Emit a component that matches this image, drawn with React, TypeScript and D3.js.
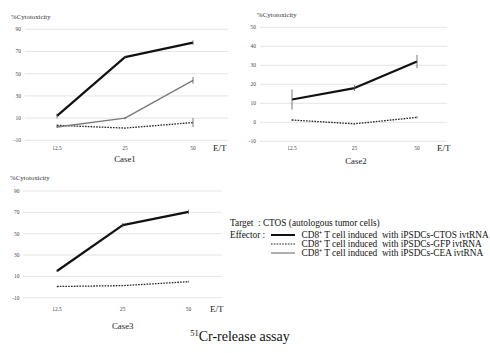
import React from "react";
import * as d3 from "d3";

const categories = ["12.5", "25", "50"];

const case1CTOS = [12, 65, 78];
const case1CTOSErr = [2, 1, 2];
const case1GFP = [3.5, 1, 6];
const case1GFPErr = [1, 0.5, 4];
const case1CEA = [2, 10, 44];
const case1CEAErr = [1, 1, 3];

const case2CTOS = [12, 18, 32];
const case2CTOSErr = [5.3, 1.5, 3.5];
const case2GFP = [1.2, -0.8, 2.6];
const case2GFPErr = [0.5, 0.4, 0.6];

const case3CTOS = [15, 58, 70.5];
const case3CTOSErr = [1, 2, 2];
const case3GFP = [0.5, 1.3, 5];
const case3GFPErr = [0.4, 0.4, 0.8];

const ticks1 = [-10, 10, 30, 50, 70, 90];
const ticks2 = [-10, 0, 10, 20, 30, 40, 50];
const ticks3 = [-10, 10, 30, 50, 70, 90];

const legendLabels = [
  "CD8\u207A T cell induced\u00A0 with iPSDCs-CTOS ivtRNA",
  "CD8\u207A T cell induced\u00A0 with iPSDCs-GFP ivtRNA",
  "CD8\u207A T cell induced\u00A0 with iPSDCs-CEA ivtRNA",
];

const FONT = "'Liberation Serif', 'Times New Roman', serif";

type Series = { values: number[]; err: number[]; style: string };

const styles: Record<string, { stroke: string; width: number; dash?: string }> = {
  ctos: { stroke: "#111", width: 2.2 },
  gfp: { stroke: "#222", width: 1.3, dash: "1.6,1.2" },
  cea: { stroke: "#7a7a7a", width: 1.4 },
};

function Panel(props: {
  gx0: number; gx1: number; px0: number; px1: number;
  yTop: number; yBot: number; domain: [number, number]; ticks: number[];
  series: Series[]; title: string; titleX: number; titleY: number;
  ylabX: number; ylabY: number; tickRight: number; xLabY: number; etX: number;
}) {
  const x = d3.scalePoint<string>().domain(categories).range([props.px0, props.px1]);
  const y = d3.scaleLinear().domain(props.domain).range([props.yBot, props.yTop]);
  const line = d3.line<number>().x((_, i) => x(categories[i])!).y((d) => y(d));
  return (
    <g>
      <text x={props.ylabX} y={props.ylabY} fontSize={6.8} fill="#333" fontFamily={FONT}>%Cytotoxicity</text>
      {props.ticks.map((t) => (
        <g key={t}>
          <line x1={props.gx0} x2={props.gx1} y1={y(t)} y2={y(t)} stroke="#dedede" strokeWidth={0.8} />
          <text x={props.tickRight} y={y(t) + 1.9} fontSize={5.4} textAnchor="end" fill="#444" fontFamily={FONT}>{t}</text>
        </g>
      ))}
      {categories.map((c) => (
        <text key={c} x={x(c)} y={props.xLabY + 1.9} fontSize={5.4} textAnchor="middle" fill="#444" fontFamily={FONT}>{c}</text>
      ))}
      <text x={props.etX} y={props.xLabY + 3.2} fontSize={9} fill="#222" fontFamily={FONT}>E/T</text>
      <text x={props.titleX} y={props.titleY + 3.2} fontSize={8.8} textAnchor="middle" fill="#222" fontFamily={FONT}>{props.title}</text>
      {props.series.map((s, k) => {
        const st = styles[s.style];
        return (
          <g key={k}>
            <path d={line(s.values)!} fill="none" stroke={st.stroke} strokeWidth={st.width} strokeDasharray={st.dash} strokeLinejoin="round" />
            {s.values.map((v, i) => (
              <line key={i} x1={x(categories[i])} x2={x(categories[i])} y1={y(v - s.err[i])} y2={y(v + s.err[i])} stroke="#555" strokeWidth={0.8} />
            ))}
          </g>
        );
      })}
    </g>
  );
}

export default function App() {
  const legendY = [238, 247, 256];
  return (
    <svg width={490} height={353} style={{ position: "absolute", left: 0, top: 0, background: "#fff" }}>
      <Panel gx0={25} gx1={228} px0={57} px1={193} yTop={29.3} yBot={140.3} domain={[-10, 90]} ticks={ticks1}
        series={[
          { values: case1CTOS, err: case1CTOSErr, style: "ctos" },
          { values: case1GFP, err: case1GFPErr, style: "gfp" },
          { values: case1CEA, err: case1CEAErr, style: "cea" },
        ]}
        title="Case1" titleX={125} titleY={159} ylabX={11} ylabY={19} tickRight={21} xLabY={148} etX={213} />
      <Panel gx0={260} gx1={447} px0={292} px1={417} yTop={27.3} yBot={141.3} domain={[-10, 50]} ticks={ticks2}
        series={[
          { values: case2CTOS, err: case2CTOSErr, style: "ctos" },
          { values: case2GFP, err: case2GFPErr, style: "gfp" },
        ]}
        title="Case2" titleX={356} titleY={161} ylabX={257} ylabY={17} tickRight={256} xLabY={148} etX={437} />
      <Panel gx0={23} gx1={222} px0={57} px1={188.5} yTop={191} yBot={297.7} domain={[-10, 90]} ticks={ticks3}
        series={[
          { values: case3CTOS, err: case3CTOSErr, style: "ctos" },
          { values: case3GFP, err: case3GFPErr, style: "gfp" },
        ]}
        title="Case3" titleX={122.7} titleY={325.5} ylabX={10} ylabY={180} tickRight={19.5} xLabY={309} etX={210} />
      <g fontFamily={FONT} fontSize={9.3} fill="#111">
        <text x={230} y={226}>Target</text>
        <text x={258} y={226}>: CTOS (autologous tumor cells)</text>
        <text x={230} y={legendY[0]}>Effector :</text>
        {legendLabels.map((l, i) => (
          <text key={i} x={301.5} y={legendY[i]}>{l}</text>
        ))}
      </g>
      {["ctos", "gfp", "cea"].map((k, i) => {
        const st = styles[k];
        return (
          <line key={k} x1={271} x2={295} y1={legendY[i] - 3} y2={legendY[i] - 3} stroke={st.stroke}
            strokeWidth={k === "ctos" ? 2 : 1.2} strokeDasharray={st.dash} />
        );
      })}
      <text x={240} y={341} fontSize={14} textAnchor="middle" fontFamily={FONT} fill="#111">
        <tspan fontSize={8.5} dy={-5}>51</tspan>
        <tspan dy={5}>Cr-release assay</tspan>
      </text>
    </svg>
  );
}
